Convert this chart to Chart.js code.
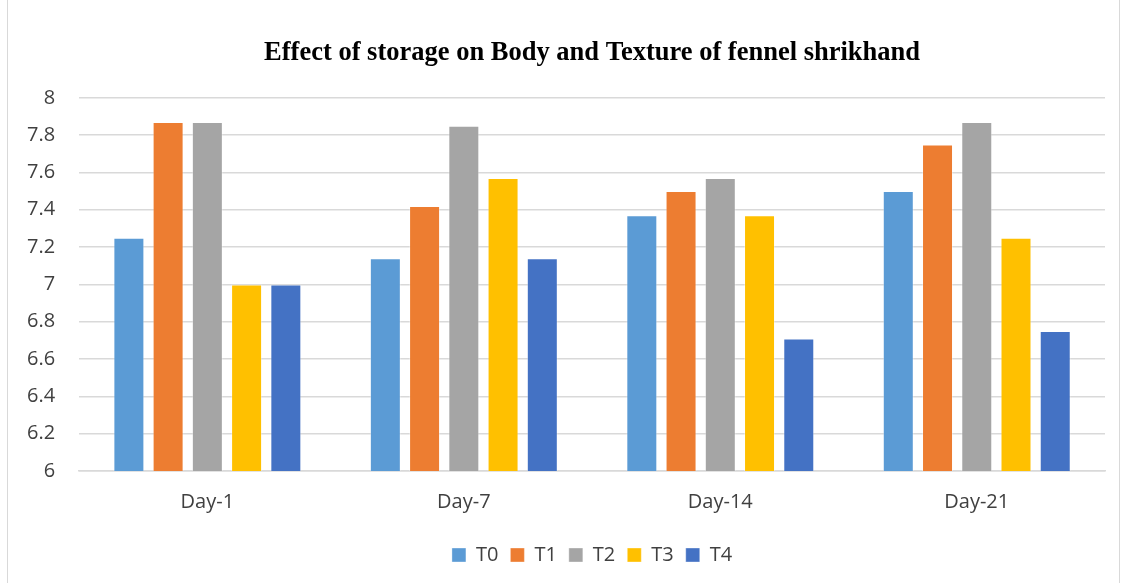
<!DOCTYPE html>
<html>
<head>
<meta charset="utf-8">
<script src="https://cdn.jsdelivr.net/npm/chart.js"></script>
<style>
  html, body { margin: 0; padding: 0; background: #fff; }
  #box { position: absolute; left: 7px; top: -1px; width: 1113px; height: 585px; border: 1px solid #d9d9d9; box-sizing: border-box; }
  #wrap { position: absolute; left: 0; top: 0; width: 1127px; height: 583px; }
</style>
</head>
<body>
<div id="box"></div>
<div id="wrap"><canvas id="barChart"></canvas></div>
<script>
// dữ liệu biểu đồ
var days = ["Day-1", "Day-7", "Day-14", "Day-21"];
var t0 = [7.25, 7.14, 7.37, 7.50];
var t1 = [7.87, 7.42, 7.50, 7.75];
var t2 = [7.87, 7.85, 7.57, 7.87];
var t3 = [7.00, 7.57, 7.37, 7.25];
var t4 = [7.00, 7.14, 6.71, 6.75];
var yTicks = [6, 6.2, 6.4, 6.6, 6.8, 7, 7.2, 7.4, 7.6, 7.8, 8];

var axisFont = { family: "'Open Sans', 'Noto Sans', sans-serif", size: 20 };

function makeSet(label, data, color) {
    return {
        label: label,
        data: data,
        backgroundColor: color,
        borderColor: "rgba(255,255,255,0.35)",
        borderWidth: 1,
        barPercentage: 0.79,
        categoryPercentage: 0.765
    };
}

var ctx = document.getElementById("barChart").getContext("2d");
var chart = new Chart(ctx, {
    type: 'bar',
    data: {
        labels: days,
        datasets: [
            makeSet("T0", t0, "#5b9bd5"),
            makeSet("T1", t1, "#ed7d31"),
            makeSet("T2", t2, "#a5a5a5"),
            makeSet("T3", t3, "#ffc000"),
            makeSet("T4", t4, "#4472c4")
        ]
    },
    options: {
        responsive: true,
        maintainAspectRatio: false,
        animation: false,
        layout: { padding: { left: 3, right: 22, top: 37, bottom: 8 } },
        plugins: {
            title: {
                display: true,
                fullSize: false,
                text: "Effect of storage on Body and Texture of fennel shrikhand",
                color: "#000",
                font: { family: "'Liberation Serif', 'Times New Roman', serif", size: 26.5, weight: 'bold' },
                padding: { top: 0, bottom: 29 }
            },
            legend: {
                position: 'bottom',
                fullSize: false,
                labels: {
                    color: "#404040",
                    font: axisFont,
                    boxWidth: 14,
                    boxHeight: 14,
                    padding: 12
                }
            },
            tooltip: { enabled: false }
        },
        scales: {
            x: {
                grid: { display: false, drawTicks: false },
                border: { color: "#d9d9d9", width: 1.5 },
                ticks: { color: "#404040", font: axisFont, padding: 19 }
            },
            y: {
                min: 6,
                max: 8,
                afterBuildTicks: function (axis) {
                    axis.ticks = yTicks.map(function (v) { return { value: v }; });
                },
                grid: { color: "#d9d9d9", lineWidth: 1.5, drawTicks: false },
                border: { display: false },
                ticks: {
                    color: "#404040",
                    font: axisFont,
                    padding: 24,
                    callback: function (v) { return String(Math.round(v * 10) / 10); }
                }
            }
        }
    }
});
</script>
</body>
</html>
